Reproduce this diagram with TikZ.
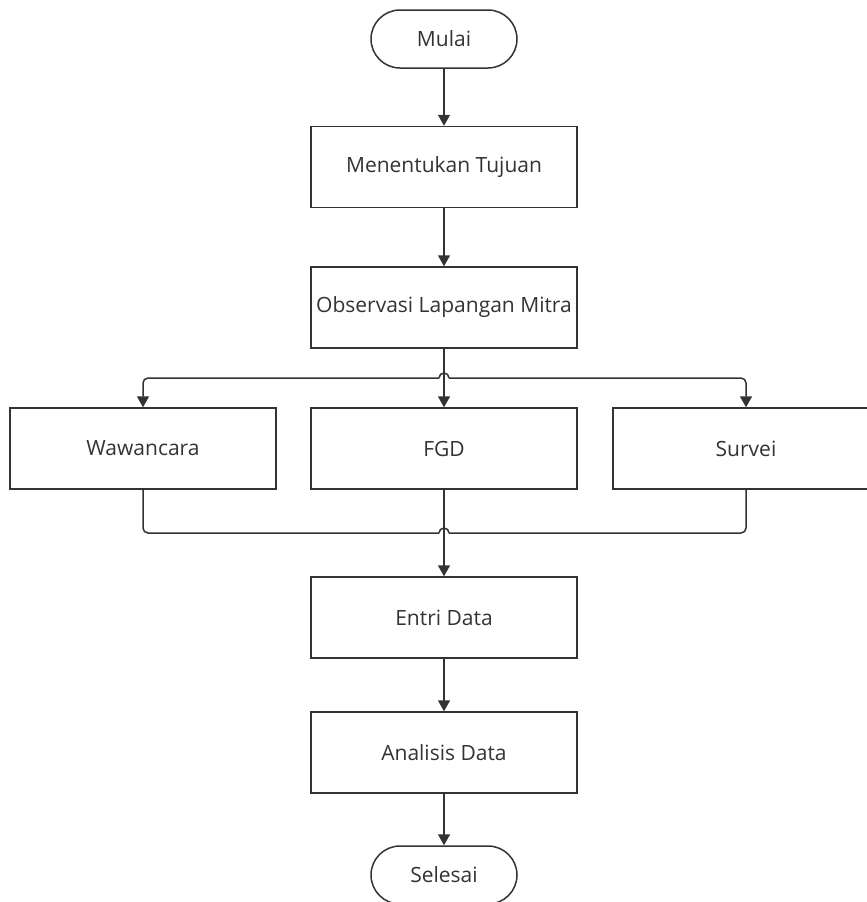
\documentclass[tikz,border=0pt]{standalone}
\usepackage{fontspec}
\setmainfont{Open Sans}
\usetikzlibrary{arrows.meta}
\definecolor{inkgray}{HTML}{333333}
\begin{document}
\begin{tikzpicture}[x=1pt,y=1pt,
  every node/.style={font=\fontsize{21}{25}\selectfont, text=inkgray},
  process/.style={draw=inkgray, line width=1.5pt, minimum width=266pt, minimum height=81pt, inner sep=0pt},
  terminal/.style={draw=inkgray, line width=1.5pt, rounded corners=29pt, minimum width=146pt, minimum height=58pt, inner sep=0pt},
  flow/.style={draw=inkgray, line width=1.5pt},
  arrow/.style={flow, -{Triangle[length=11pt,width=12pt]}}]
\useasboundingbox (0,0) rectangle (867,-902);
\node[terminal] (mulai) at (444,-39) {Mulai};
\node[process] (tujuan) at (444,-167) {Menentukan Tujuan};
\node[process] (obs) at (444,-307.5) {Observasi Lapangan Mitra};
\node[process] (waw) at (143,-448.5) {Wawancara};
\node[process] (fgd) at (444,-448.5) {FGD};
\node[process] (surv) at (746,-448.5) {Survei};
\node[process] (entri) at (444,-617.5) {Entri Data};
\node[process] (analisis) at (444,-752.5) {Analisis Data};
\node[terminal] (selesai) at (444,-875) {Selesai};
\coordinate (split) at (444,-378);
\coordinate (merge) at (444,-533);
\draw[arrow] (mulai) -- (tujuan);
\draw[arrow] (tujuan) -- (obs);
\draw[arrow] (obs) -- (fgd);
\draw[arrow, rounded corners=5pt] ([xshift=-5pt]split) -| (waw.north);
\draw[arrow, rounded corners=5pt] ([xshift=5pt]split) -| (surv.north);
\draw[flow] ([xshift=-5pt]split) arc[start angle=180, end angle=0, radius=5];
\draw[flow, rounded corners=5pt] (waw.south) |- ([xshift=-5pt]merge);
\draw[flow, rounded corners=5pt] (surv.south) |- ([xshift=5pt]merge);
\draw[flow] ([xshift=-5pt]merge) arc[start angle=180, end angle=0, radius=5];
\draw[arrow] (fgd) -- (entri);
\draw[arrow] (entri) -- (analisis);
\draw[arrow] (analisis) -- (selesai);
\end{tikzpicture}
\end{document}
